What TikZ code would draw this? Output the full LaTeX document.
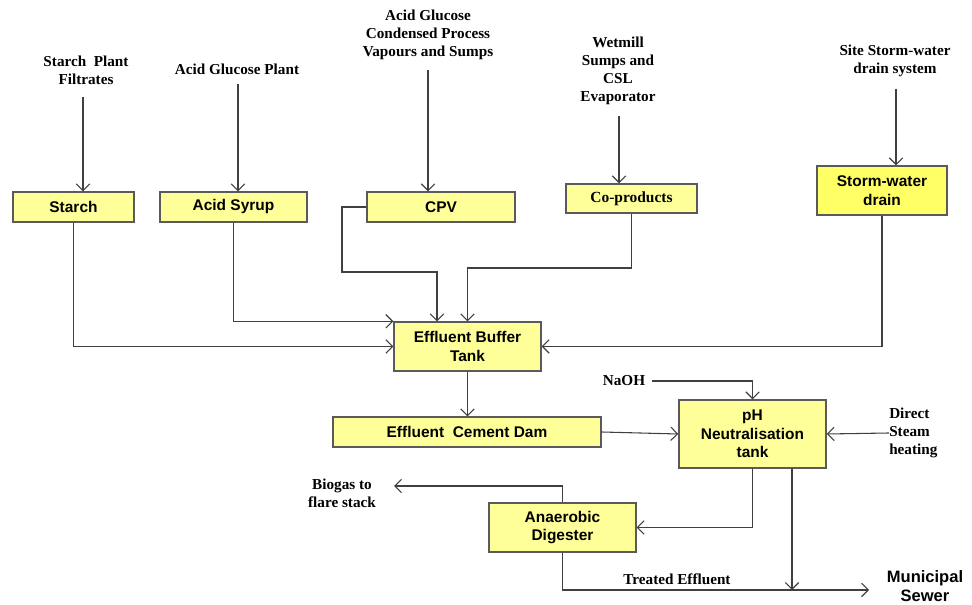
\documentclass[tikz,border=0pt]{standalone}
\usepackage{fontspec}
\setmainfont{Liberation Serif}
\setsansfont{Liberation Sans}
\usetikzlibrary{arrows.meta}
\definecolor{boxfill}{HTML}{FFFF99}
\definecolor{stormfill}{HTML}{FFFF66}
\definecolor{edge}{HTML}{5A5A5A}
\definecolor{wire}{HTML}{404040}
\begin{document}
\begin{tikzpicture}[x=0.75pt,y=-0.75pt,
  unit box/.style={draw=edge, line width=1.1pt, fill=boxfill, inner sep=0pt, align=center,
     font=\sffamily\bfseries\fontsize{11.6}{13.8}\selectfont},
  serif box/.style={unit box, font=\rmfamily\bfseries\fontsize{11.6}{13.8}\selectfont},
  label text/.style={align=center, inner sep=0pt, font=\rmfamily\bfseries\fontsize{11.4}{13.5}\selectfont},
  flow/.style={draw=wire, line width=0.8pt, -{Straight Barb[length=5pt,width=10pt,line width=0.8pt]}}]
\useasboundingbox (0,0) rectangle (972,605);

% process units
\node[unit box, minimum width=90.75pt, minimum height=22.5pt] (starch) at (73.5,207) {Starch};
\node[unit box, minimum width=110.25pt, minimum height=22.5pt] (syrup) at (233.5,207) {Acid Syrup};
\node[unit box, minimum width=111pt, minimum height=22.5pt] (cpv) at (441,207) {CPV};
\node[serif box, minimum width=98.25pt, minimum height=21.75pt] (coprod) at (631.5,198.5) {Co-products};
\node[unit box, fill=stormfill, minimum width=97.5pt, minimum height=36.75pt] (storm) at (882,190.5) {Storm-water\\drain};
\node[unit box, minimum width=110.25pt, minimum height=36.75pt] (buffer) at (467.5,346.5) {Effluent Buffer\\Tank};
\node[unit box, minimum width=201pt, minimum height=22.5pt] (dam) at (467,432) {Effluent\ \ Cement Dam};
\node[unit box, minimum width=110.25pt, minimum height=51pt] (ph) at (752.5,434) {pH\\Neutralisation\\tank};
\node[unit box, minimum width=110.25pt, minimum height=36.75pt] (digester) at (562.5,527.5) {Anaerobic\\Digester};

% sources and outlets
\node[label text] (srcstarch) at (86,70) {Starch\ \ Plant\\Filtrates};
\node[label text] (srcacid) at (237,69) {Acid Glucose Plant};
\node[label text] (srccpv) at (428,35) {Acid Glucose\\Condensed Process\\Vapours and Sumps};
\node[label text] (srcwet) at (618,70.5) {Wetmill\\Sumps and\\CSL\\Evaporator};
\node[label text] (srcstorm) at (895,61) {Site Storm-water\\drain system};
\node[label text] (naoh) at (624,381) {NaOH};
\node[label text, align=left, anchor=west] (steam) at (889,433) {Direct\\Steam\\heating};
\node[label text] (biogas) at (342,493) {Biogas to\\flare stack};
\node[label text] (treated) at (677,579) {Treated Effluent};
\node[font=\sffamily\bfseries\fontsize{12.4}{14}\selectfont, align=center, inner sep=0pt] (sewer) at (925,586) {Municipal\\Sewer};

% feed lines into the units
\coordinate (in1) at (83,97);
\coordinate (in2) at (238,84);
\coordinate (in3) at (428,70);
\coordinate (in4) at (619,116);
\coordinate (in5) at (896,89);
\draw[flow] (in1) -- (in1 |- starch.north);
\draw[flow] (in2) -- (in2 |- syrup.north);
\draw[flow] (in3) -- (in3 |- cpv.north);
\draw[flow] (in4) -- (in4 |- coprod.north);
\draw[flow] (in5) -- (in5 |- storm.north);

% collection into the buffer tank
\coordinate (cpvdrop) at (437,272);
\coordinate (copdrop) at (467.5,268);
\draw[flow] (starch.south) |- (buffer.west);
\draw[flow] (syrup.south) |- (buffer.north west);
\draw[flow] (cpv.west) -| (342,272) -- (cpvdrop) -- (cpvdrop |- buffer.north);
\draw[flow] (coprod.south) |- (copdrop) -- (buffer.north);
\draw[flow] (storm.south) |- (buffer.east);

% treatment train
\draw[flow] (buffer.south) -- (buffer.south |- dam.north);
\draw[flow] (dam.east) -- (ph.west);
\draw[flow] ([xshift=5pt]naoh.east) -| (ph.north);
\draw[flow] (steam.west) -- (ph.east);
\draw[flow] (ph.south) |- (digester.east);

\coordinate (join) at (792,590);
\coordinate (outfall) at (869,590);
\coordinate (flare) at (394,486);
\draw[flow] (ph.south -| join) -- (join);
\draw[flow] (digester.south) |- (outfall);
\draw[flow] (digester.north) |- (flare);
\end{tikzpicture}
\end{document}
